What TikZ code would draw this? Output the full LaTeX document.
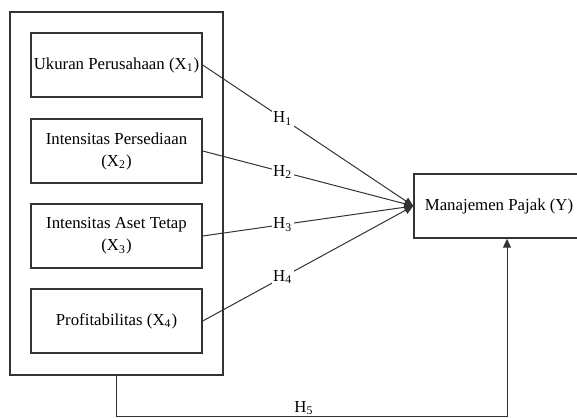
\documentclass[tikz,border=0pt]{standalone}
\usepackage{fontspec}
\setmainfont{Liberation Serif}
\usetikzlibrary{arrows.meta}

\begin{document}
\begin{tikzpicture}[x=0.5pt, y=-0.5pt,
  varbox/.style={draw=black!80, line width=0.7pt, rectangle, minimum width=85.5pt, minimum height=32pt, align=center, inner sep=1pt, font=\fontsize{8.4}{11}\selectfont},
  link/.style={draw=black!80, line width=0.5pt},
  hyp/.style={fill=white, inner sep=0.8pt, font=\fontsize{8.4}{11}\selectfont}]
\useasboundingbox (0,0) rectangle (577,417);
\node[draw=black!80, line width=0.7pt, minimum width=106.5pt, minimum height=181.5pt] (outer) at (116.5,193.5) {};
\node[varbox] (x1) at (116.5,65) {Ukuran Perusahaan (X\textsubscript{1})};
\node[varbox] (x2) at (116.5,151) {Intensitas Persediaan\\(X\textsubscript{2})};
\node[varbox] (x3) at (116.5,236) {Intensitas Aset Tetap\\(X\textsubscript{3})};
\node[varbox] (x4) at (116.5,321) {Profitabilitas (X\textsubscript{4})};
\node[varbox, minimum width=85pt] (y) at (499,206) {Manajemen Pajak (Y)};
\foreach \src/\num in {x1/1, x2/2, x3/3, x4/4} {
\draw[link, -{Triangle[length=4.5pt, width=4pt]}] (\src.east) -- (y.west) node[hyp, pos=0.38] {H\textsubscript{\num}};
}
\draw[link, -{Triangle[length=4.5pt, width=4pt]}] (outer.south) -- ++(0,41) -| ([xshift=4pt]y.south) node[hyp, pos=0.24, above, fill=none] {H\textsubscript{5}};
\end{tikzpicture}
\end{document}
